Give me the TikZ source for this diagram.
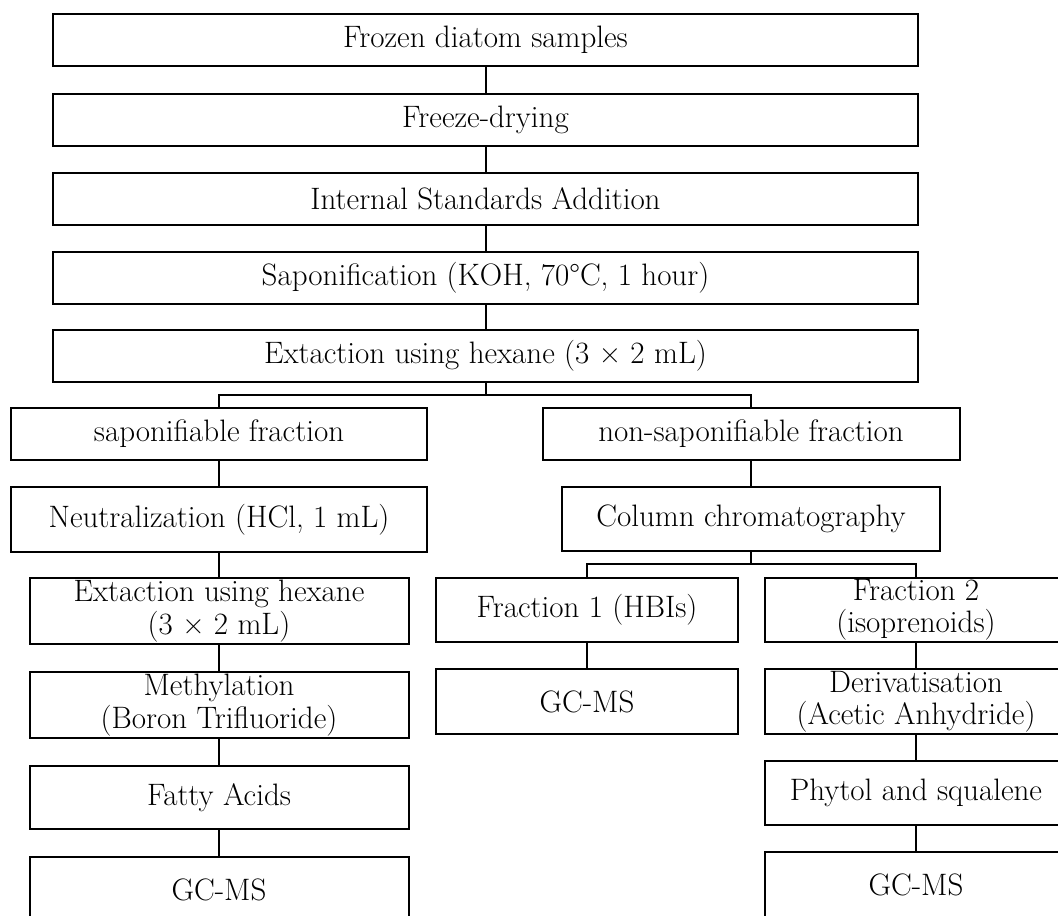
\documentclass[tikz,border=0pt]{standalone}
\usepackage{tikz}
\tikzset{
  procbox/.style={draw, line width=1pt, align=center, inner sep=0pt,
    font=\fontsize{15.5}{16.2}\selectfont},
  link/.style={line width=1pt}
}
\begin{document}
\begin{tikzpicture}
\useasboundingbox (0pt,0pt) rectangle (529pt,-457.5pt);
% main line
\node[procbox, minimum width=432.5pt, minimum height=26pt] (frozen) at (242.75pt,-20pt) {Frozen diatom samples};
\node[procbox, minimum width=432.5pt, minimum height=26pt] (freeze) at (242.75pt,-60pt) {Freeze-drying};
\node[procbox, minimum width=432.5pt, minimum height=26pt] (intstd) at (242.75pt,-99.5pt) {Internal Standards Addition};
\node[procbox, minimum width=432.5pt, minimum height=26pt] (sapon) at (242.75pt,-139pt) {Saponification (KOH, 70\textdegree C, 1 hour)};
\node[procbox, minimum width=432.5pt, minimum height=26pt] (extract) at (242.75pt,-178pt) {Extaction using hexane (3 \texttimes{} 2 mL)};
\coordinate (split1) at (242.75pt,-197.5pt);
% left branch
\node[procbox, minimum width=208pt, minimum height=26pt] (sapfrac) at (109.5pt,-217pt) {saponifiable fraction};
\node[procbox, minimum width=208pt, minimum height=32.5pt] (neutral) at (109.5pt,-259.75pt) {Neutralization (HCl, 1 mL)};
\node[procbox, minimum width=189.5pt, minimum height=33pt] (extracttwo) at (109.5pt,-305.5pt) {Extaction using hexane\\(3 \texttimes{} 2 mL)};
\node[procbox, minimum width=189.5pt, minimum height=33pt] (methyl) at (109.5pt,-352.5pt) {Methylation\\(Boron Trifluoride)};
\node[procbox, minimum width=189.5pt, minimum height=31.5pt] (fatty) at (109.5pt,-398.75pt) {Fatty Acids};
\node[procbox, minimum width=189.5pt, minimum height=33pt] (gcmsa) at (109.5pt,-445pt) {GC-MS};
% right branch
\node[procbox, minimum width=208.5pt, minimum height=26pt] (nonsap) at (375.5pt,-217pt) {non-saponifiable fraction};
\node[procbox, minimum width=189pt, minimum height=32pt] (column) at (375.5pt,-259.5pt) {Column chromatography};
\coordinate (split2) at (375.5pt,-282pt);
\node[procbox, minimum width=151pt, minimum height=32pt] (fracone) at (293.5pt,-305pt) {Fraction 1 (HBIs)};
\node[procbox, minimum width=151pt, minimum height=32.5pt] (gcmsb) at (293.5pt,-350.75pt) {GC-MS};
\node[procbox, minimum width=151pt, minimum height=32pt] (fractwo) at (458pt,-305pt) {Fraction 2\\(isoprenoids)};
\node[procbox, minimum width=151pt, minimum height=32.5pt] (deriv) at (458pt,-350.75pt) {Derivatisation\\(Acetic Anhydride)};
\node[procbox, minimum width=151pt, minimum height=32pt] (phytol) at (458pt,-396.5pt) {Phytol and squalene};
\node[procbox, minimum width=151pt, minimum height=33pt] (gcmsc) at (458pt,-442.5pt) {GC-MS};
% connectors
\draw[link] (frozen) -- (freeze);
\draw[link] (freeze) -- (intstd);
\draw[link] (intstd) -- (sapon);
\draw[link] (sapon) -- (extract);
\draw[link] (extract.south) -- (split1);
\draw[link] (split1) -| (sapfrac.north);
\draw[link] (split1) -| (nonsap.north);
\draw[link] (sapfrac) -- (neutral);
\draw[link] (neutral) -- (extracttwo);
\draw[link] (extracttwo) -- (methyl);
\draw[link] (methyl) -- (fatty);
\draw[link] (fatty) -- (gcmsa);
\draw[link] (nonsap) -- (column);
\draw[link] (column.south) -- (split2);
\draw[link] (split2) -| (fracone.north);
\draw[link] (split2) -| (fractwo.north);
\draw[link] (fracone) -- (gcmsb);
\draw[link] (fractwo) -- (deriv);
\draw[link] (deriv) -- (phytol);
\draw[link] (phytol) -- (gcmsc);
\end{tikzpicture}
\end{document}
